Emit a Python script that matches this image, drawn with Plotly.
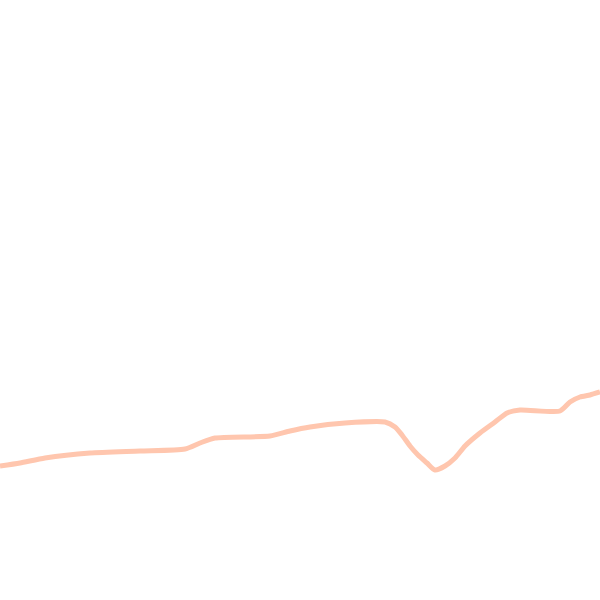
import plotly.graph_objects as go

# --- data ---
x_vals = [0, 20, 45, 90, 140, 185, 200, 215, 270, 290, 310, 345, 385, 395, 402,
          410, 418, 427, 435, 445, 455, 465, 480, 495, 507, 520, 560, 570, 580, 590, 600]
y_vals = [134, 137, 142, 147, 149, 151, 157, 162, 164, 169, 173, 177, 178, 173, 165,
          154, 145, 137, 130, 134, 142, 154, 167, 178, 187, 190, 189, 198, 203, 205, 208]

fig = go.Figure()
fig.add_trace(go.Scatter(x=x_vals, y=y_vals, mode='lines',
                         line={'color': 'rgb(255,198,174)', 'width': 5, 'shape': 'spline', 'smoothing': 0.6},
                         hoverinfo='skip', showlegend=False))

fig.update_layout(margin={'l': 0, 'r': 0, 't': 0, 'b': 0},
                  paper_bgcolor='white', plot_bgcolor='white',
                  xaxis={'visible': False, 'range': [0, 600]},
                  yaxis={'visible': False, 'range': [0, 600]})

# full-window page, no body margin, no modebar
fig.write_html("out.html", default_width='100vw', default_height='100vh',
               config={'displayModeBar': False},
               post_script="document.body.style.margin='0';window.dispatchEvent(new Event('resize'));")
